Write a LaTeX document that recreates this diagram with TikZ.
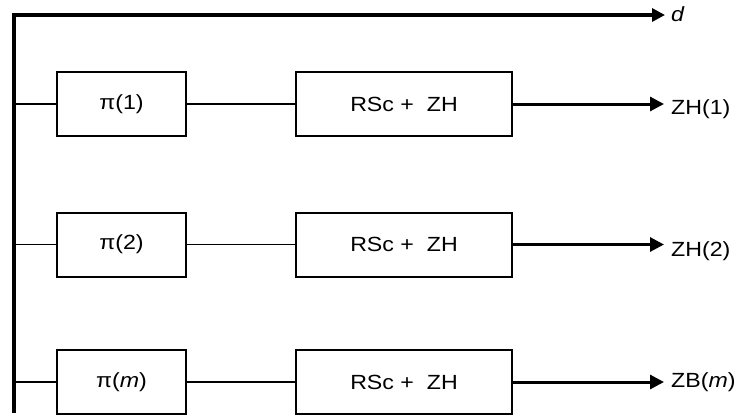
\documentclass[tikz,border=0pt]{standalone}
\usepackage{fontspec}
\setmainfont{Liberation Sans}[FakeStretch=1.13]
\usetikzlibrary{arrows.meta}
\begin{document}
\begin{tikzpicture}[x=1pt,y=-1pt,
  blk/.style={draw,line width=2pt,minimum height=64pt,inner sep=0pt,font=\fontsize{20.5}{24}\selectfont},
  pbox/.style={blk,minimum width=129pt},
  rbox/.style={blk,minimum width=216pt},
  thin/.style={line width=1.8pt},
  outarr/.style={line width=3pt,-{Triangle[length=14pt,width=14pt]}},
  lbl/.style={anchor=west,inner sep=0pt,font=\fontsize{20.5}{24}\selectfont}]
\useasboundingbox (0,0) rectangle (738,416);
% trunk
\coordinate (tb) at (14,413);
\coordinate (tc) at (14,15);
\coordinate (dend) at (665,15);
\node[lbl] (d) at (671,14) {\itshape d};
\draw[line width=3.2pt,-{Triangle[length=13pt,width=13pt]}] (tb) -- (tc) -- (dend);
% row 1
\node[pbox] (p1) at (121.5,104) {π(1)};
\node[rbox] (r1) at (404,104) {RSc +\ \ ZH};
\coordinate (e1) at (664,104);
\node[lbl] (z1) at (671,109) {ZH(1)};
\draw[thin] (p1.west -| tc) -- (p1.west);
\draw[thin] (p1.east) -- (r1.west);
\draw[outarr] (r1.east) -- (e1);
% row 2
\node[pbox] (p2) at (121.5,244.5) {π(2)};
\node[rbox] (r2) at (404,244.5) {RSc +\ \ ZH};
\coordinate (e2) at (664,244.5);
\node[lbl] (z2) at (671,251) {ZH(2)};
\draw[thin] (p2.west -| tc) -- (p2.west);
\draw[thin] (p2.east) -- (r2.west);
\draw[outarr] (r2.east) -- (e2);
% row 3
\node[pbox] (p3) at (121.5,382) {π(\textit{m})};
\node[rbox] (r3) at (404,382) {RSc +\ \ ZH};
\coordinate (e3) at (664,382);
\node[lbl] (z3) at (671,382) {ZB(\textit{m})};
\draw[thin] (p3.west -| tc) -- (p3.west);
\draw[thin] (p3.east) -- (r3.west);
\draw[outarr] (r3.east) -- (e3);
\end{tikzpicture}
\end{document}
